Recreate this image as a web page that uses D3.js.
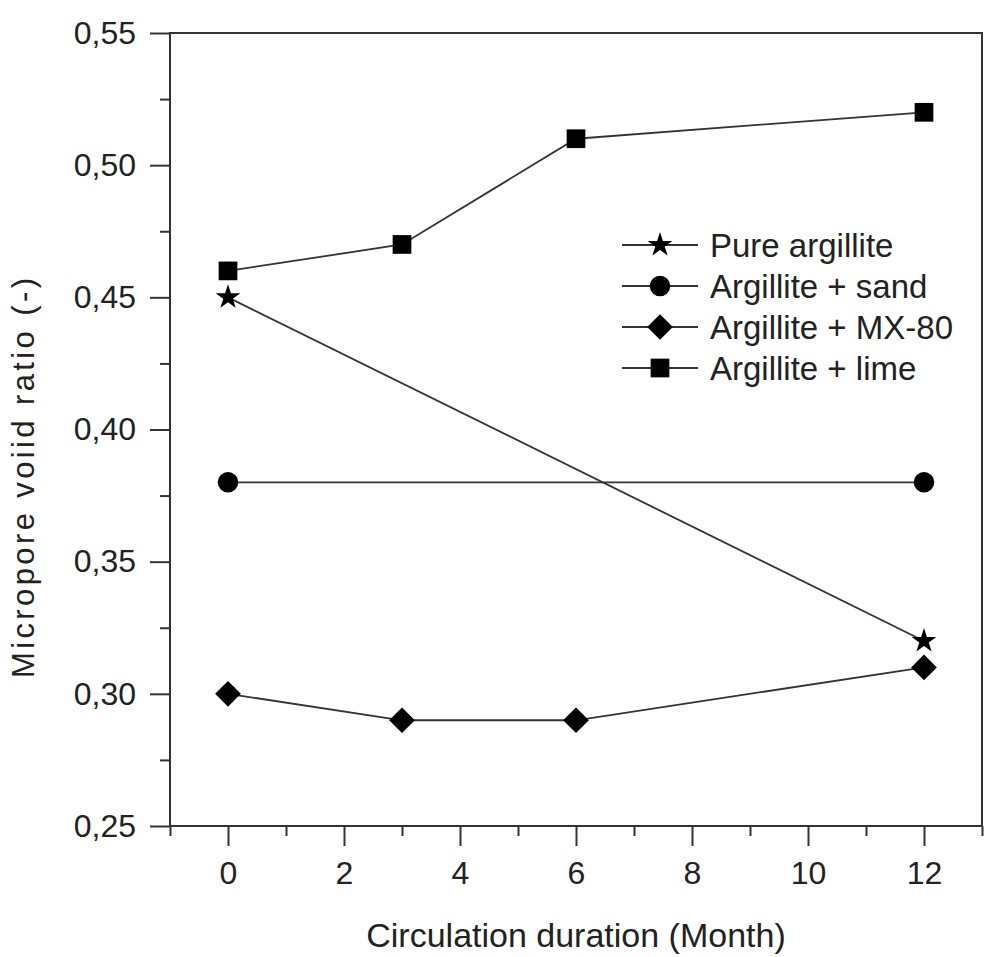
<!DOCTYPE html>
<html>
<head>
<meta charset="utf-8">
<script src="https://cdn.jsdelivr.net/npm/d3@7"></script>
<style>
  body { margin: 0; background: #fff; }
  text { font-family: "Liberation Sans", Arial, sans-serif; fill: #222; }
</style>
</head>
<body>
<div id="chart"></div>
<script>
// months on the x axis
var months = [0, 3, 6, 12];

var pureArgillite = [[0, 0.45], [12, 0.32]];
var argilliteSand = [[0, 0.38], [12, 0.38]];
var argilliteMX80 = [[0, 0.30], [3, 0.29], [6, 0.29], [12, 0.31]];
var argilliteLime = [[0, 0.46], [3, 0.47], [6, 0.51], [12, 0.52]];

var seriesNames = ["Pure argillite", "Argillite + sand", "Argillite + MX-80", "Argillite + lime"];
var seriesSymbols = ["star", "circle", "diamond", "square"];

var xTicks = [0, 2, 4, 6, 8, 10, 12];
var yTicks = [0.25, 0.30, 0.35, 0.40, 0.45, 0.50, 0.55];

var margin = { left: 170, right: 2, top: 33, bottom: 131 };
var W = 984, H = 957;
var width = W - margin.left - margin.right,
    height = H - margin.top - margin.bottom;

var svg = d3.select("#chart").append("svg")
    .attr("width", W)
    .attr("height", H)
  .append("g")
    .attr("transform", "translate(" + margin.left + "," + margin.top + ")");

var x = d3.scaleLinear().domain([-1, 13]).range([0, width]);
var y = d3.scaleLinear().domain([0.25, 0.55]).range([height, 0]);

var axisColor = "#333";

// frame
svg.append("rect")
    .attr("width", width).attr("height", height)
    .attr("fill", "none").attr("stroke", axisColor).attr("stroke-width", 2);

// x axis
var xMinor = d3.range(-1, 14, 2);
svg.append("g")
    .attr("transform", "translate(0," + height + ")")
    .call(d3.axisBottom(x).tickValues(xMinor).tickSize(10).tickFormat(""))
    .call(function(g) { g.select(".domain").remove(); g.selectAll("line").attr("stroke", axisColor).attr("stroke-width", 2); });

var xa = svg.append("g")
    .attr("transform", "translate(0," + height + ")")
    .call(d3.axisBottom(x).tickValues(xTicks).tickSize(20).tickPadding(15).tickFormat(d3.format("d")));
xa.select(".domain").remove();
xa.selectAll("line").attr("stroke", axisColor).attr("stroke-width", 2);
xa.selectAll("text").attr("font-size", "32px").attr("fill", "#222");

// y axis
var yMinor = [0.275, 0.325, 0.375, 0.425, 0.475, 0.525];
svg.append("g")
    .call(d3.axisLeft(y).tickValues(yMinor).tickSize(10).tickFormat(""))
    .call(function(g) { g.select(".domain").remove(); g.selectAll("line").attr("stroke", axisColor).attr("stroke-width", 2); });

var ya = svg.append("g")
    .call(d3.axisLeft(y).tickValues(yTicks).tickSize(20).tickPadding(14)
      .tickFormat(function(d) { return d3.format(".2f")(d).replace(".", ","); }));
ya.select(".domain").remove();
ya.selectAll("line").attr("stroke", axisColor).attr("stroke-width", 2);
ya.selectAll("text").attr("font-size", "32px").attr("fill", "#222");

// axis titles
svg.append("text")
    .attr("x", width / 2)
    .attr("y", height + 121)
    .attr("text-anchor", "middle")
    .attr("font-size", "34px")
    .text("Circulation duration (Month)");

svg.append("text")
    .attr("transform", "rotate(-90)")
    .attr("x", -(478 - margin.top))
    .attr("y", -136)
    .attr("text-anchor", "middle")
    .attr("font-size", "31px")
    .attr("textLength", 400)
    .attr("lengthAdjust", "spacing")
    .text("Micropore voiid ratio (-)");

// symbols
function symbolPath(kind) {
  if (kind === "star") return d3.symbol().type(d3.symbolStar).size(190)();
  if (kind === "circle") return d3.symbol().type(d3.symbolCircle).size(330)();
  if (kind === "diamond") return d3.symbol().type(d3.symbolSquare).size(330)();
  return d3.symbol().type(d3.symbolSquare).size(350)();
}
function symbolRotate(kind) { return kind === "diamond" ? " rotate(45)" : ""; }

var allSeries = [pureArgillite, argilliteSand, argilliteMX80, argilliteLime];

var line = d3.line()
    .x(function(d) { return x(d[0]); })
    .y(function(d) { return y(d[1]); });

allSeries.forEach(function(s, i) {
  svg.append("path")
      .attr("d", line(s))
      .attr("fill", "none")
      .attr("stroke", "#333")
      .attr("stroke-width", 1.8);
  svg.selectAll(".pt" + i)
      .data(s)
      .enter().append("path")
      .attr("d", symbolPath(seriesSymbols[i]))
      .attr("transform", function(d) { return "translate(" + x(d[0]) + "," + y(d[1]) + ")" + symbolRotate(seriesSymbols[i]); })
      .attr("fill", "#000");
});

// legend
var legend = svg.append("g").attr("transform", "translate(" + (622 - margin.left) + "," + (245 - margin.top) + ")");
seriesNames.forEach(function(name, i) {
  var g = legend.append("g").attr("transform", "translate(0," + (i * 41) + ")");
  g.append("line").attr("x1", 0).attr("x2", 76).attr("y1", 0).attr("y2", 0)
      .attr("stroke", "#333").attr("stroke-width", 1.8);
  g.append("path").attr("d", symbolPath(seriesSymbols[i]))
      .attr("transform", "translate(38,0)" + symbolRotate(seriesSymbols[i]))
      .attr("fill", "#000");
  g.append("text").attr("x", 88).attr("y", 0).attr("dy", "0.36em")
      .attr("font-size", "33px").text(name);
});
</script>
</body>
</html>
